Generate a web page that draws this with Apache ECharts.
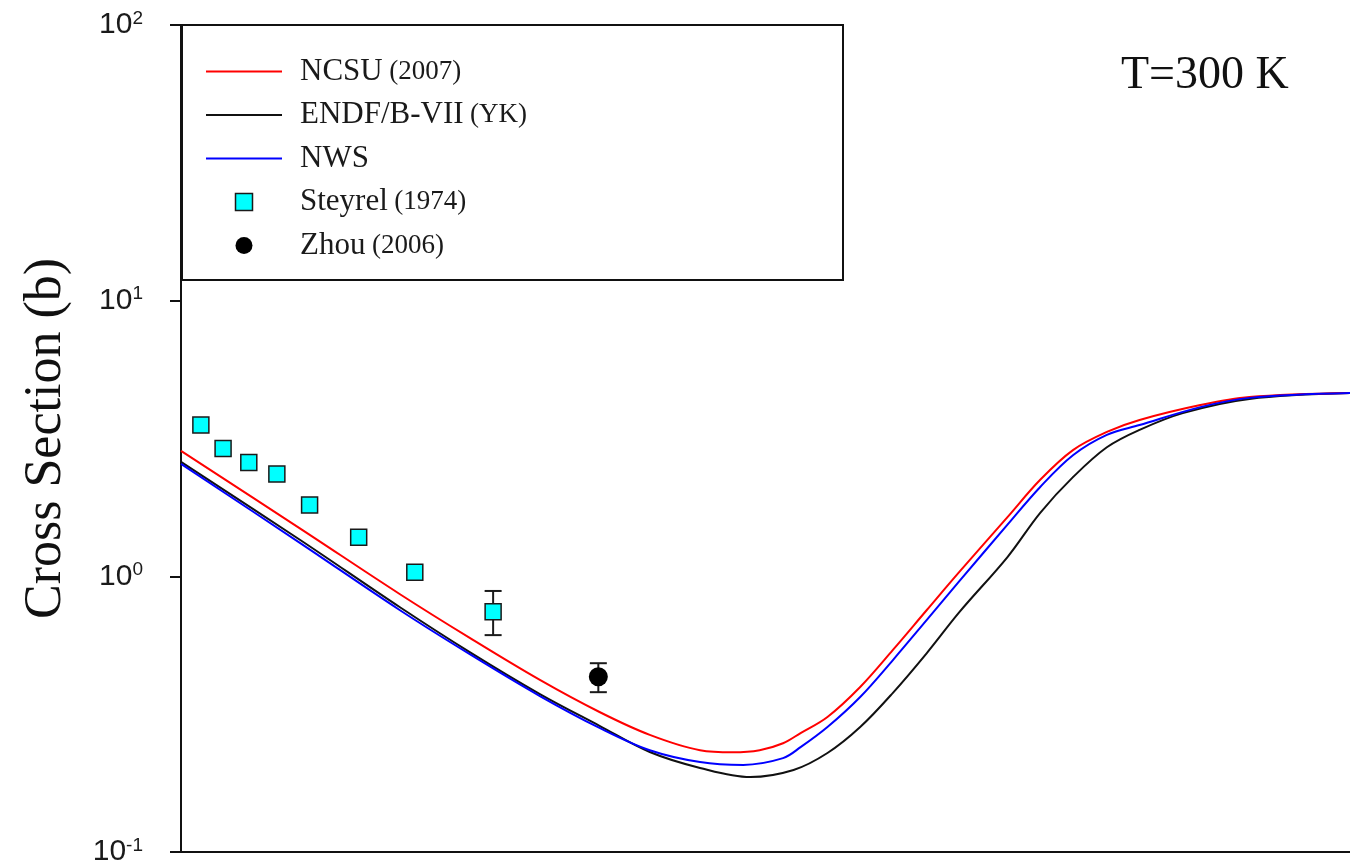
<!DOCTYPE html>
<html>
<head>
<meta charset="utf-8">
<script src="https://cdn.jsdelivr.net/npm/echarts@6/dist/echarts.min.js"></script>
<style>
  html, body { margin: 0; padding: 0; background: #ffffff; }
  #chart { width: 1350px; height: 866px; }
</style>
</head>
<body>
<div id="chart"></div>
<script>
// Horizontal positions are on an unlabelled 0..100 scale; cross sections in barns.
const ncsuX = [0, 10.2, 18.7, 24.7, 30.7, 35.8, 40.1, 44.4, 47.2, 49.5, 51.5, 53.0, 55.3, 58.1, 60.9, 63.8, 66.6, 70.7, 73.5, 76.3, 79.2, 82.0, 87.2, 91.4, 100];
const ncsuY = [2.85, 1.49, 0.863, 0.598, 0.421, 0.322, 0.266, 0.234, 0.230, 0.234, 0.248, 0.270, 0.309, 0.397, 0.541, 0.755, 1.04, 1.64, 2.24, 2.87, 3.34, 3.69, 4.18, 4.47, 4.62];

const endfX = [0, 10.2, 18.7, 24.7, 30.7, 35.8, 40.1, 44.4, 48.7, 52.4, 55.3, 58.1, 60.9, 63.8, 66.6, 70.7, 73.5, 76.3, 79.2, 82.0, 85.7, 91.4, 100];
const endfY = [2.60, 1.355, 0.774, 0.531, 0.374, 0.287, 0.2305, 0.2018, 0.187, 0.1984, 0.2286, 0.284, 0.378, 0.527, 0.743, 1.175, 1.70, 2.29, 2.94, 3.40, 3.91, 4.40, 4.62];

const nwsX = [0, 10.2, 18.7, 24.7, 30.7, 35.8, 40.1, 44.4, 48.1, 51.5, 53.0, 55.3, 58.1, 60.9, 63.8, 66.6, 70.7, 73.5, 76.3, 79.2, 82.0, 87.2, 91.4, 100];
const nwsY = [2.56, 1.32, 0.755, 0.522, 0.368, 0.282, 0.234, 0.212, 0.207, 0.219, 0.240, 0.284, 0.365, 0.497, 0.695, 0.962, 1.54, 2.11, 2.75, 3.26, 3.54, 4.11, 4.44, 4.62];

const steyrelX = [1.7, 3.6, 5.8, 8.2, 11.0, 15.2, 20.0, 26.7];
const steyrelY = [3.54, 2.91, 2.59, 2.35, 1.815, 1.385, 1.034, 0.744];
const steyrelLow = [null, null, null, null, null, null, null, 0.612];
const steyrelHigh = [null, null, null, null, null, null, null, 0.885];

const zhouX = [35.7];
const zhouY = [0.432];
const zhouLow = [0.380];
const zhouHigh = [0.484];

const seriesNames = ['NCSU (2007)', 'ENDF/B-VII (YK)', 'NWS', 'Steyrel (1974)', 'Zhou (2006)'];
const yTickExponent = { '0.1': '-1', '1': '0', '10': '1', '100': '2' };

const SERIF = 'Liberation Serif';
const SANS = 'Liberation Sans';

// legend glyphs: a flat bar for the curves, a square for Steyrel
const LINE_ICON = 'path://M0,0L40,0L40,1L0,1Z';
const SQUARE_ICON = 'path://M0,0L10,0L10,10L0,10Z';

const zip = (xs, ys) => xs.map((x, i) => [x, ys[i]]);

// error bars: [x, low, high] for every point that has an uncertainty
const errorBars = [];
steyrelX.forEach((x, i) => {
  if (steyrelLow[i] != null) errorBars.push([x, steyrelLow[i], steyrelHigh[i]]);
});
zhouX.forEach((x, i) => errorBars.push([x, zhouLow[i], zhouHigh[i]]));

function renderErrorBar(params, api) {
  const x = api.value(0);
  const lo = api.coord([x, api.value(1)]);
  const hi = api.coord([x, api.value(2)]);
  const half = 8.5;
  const style = { stroke: '#1a1a1a', lineWidth: 2 };
  return {
    type: 'group',
    children: [
      { type: 'line', shape: { x1: lo[0], y1: lo[1], x2: hi[0], y2: hi[1] }, style },
      { type: 'line', shape: { x1: lo[0] - half, y1: lo[1], x2: lo[0] + half, y2: lo[1] }, style },
      { type: 'line', shape: { x1: hi[0] - half, y1: hi[1], x2: hi[0] + half, y2: hi[1] }, style }
    ]
  };
}

const chart = echarts.init(document.getElementById('chart'), null, { renderer: 'canvas' });

chart.setOption({
  animation: false,
  backgroundColor: '#ffffff',
  grid: { left: 181, right: 0, top: 25, bottom: 14, containLabel: false, outerBoundsMode: 'none' },
  xAxis: {
    type: 'value',
    min: 0,
    max: 100,
    axisLine: { show: true, onZero: false, lineStyle: { color: '#111', width: 2 } },
    axisTick: { show: false },
    axisLabel: { show: false },
    splitLine: { show: false }
  },
  yAxis: {
    type: 'log',
    logBase: 10,
    min: 0.1,
    max: 100,
    name: 'Cross Section (b)',
    nameLocation: 'middle',
    nameRotate: 90,
    nameGap: 109,
    nameTextStyle: { fontFamily: SERIF, fontSize: 52, color: '#111' },
    axisLine: { show: true, onZero: false, lineStyle: { color: '#111', width: 2 } },
    axisTick: { show: true, inside: false, length: 11, lineStyle: { color: '#111', width: 2 } },
    minorTick: { show: false },
    splitLine: { show: false },
    axisLabel: {
      margin: 38,
      formatter: (v) => '{b|10}{s|' + yTickExponent[String(+v.toPrecision(3))] + '}',
      rich: {
        b: { fontFamily: SANS, fontSize: 30, color: '#1a1a1a', lineHeight: 32, verticalAlign: 'middle' },
        s: { fontFamily: SANS, fontSize: 19, color: '#1a1a1a', lineHeight: 19, verticalAlign: 'top' }
      }
    }
  },
  legend: {
    orient: 'vertical',
    left: 201,
    top: 51,
    padding: 5,
    itemWidth: 76,
    itemHeight: 17,
    itemGap: 12.5,
    selectedMode: false,
    data: [
      { name: seriesNames[0], icon: LINE_ICON },
      { name: seriesNames[1], icon: LINE_ICON },
      { name: seriesNames[2], icon: LINE_ICON },
      { name: seriesNames[3], icon: SQUARE_ICON,
        itemStyle: { color: '#00ffff', borderColor: '#1a1a1a', borderWidth: 1.5, opacity: 1 } },
      { name: seriesNames[4], icon: 'circle', itemStyle: { color: '#000000', borderWidth: 0, opacity: 1 } }
    ],
    formatter: (name) => {
      const i = name.indexOf(' (');
      if (i < 0) return '{m|' + name + '}';
      return '{m|' + name.slice(0, i) + '} {p|' + name.slice(i + 1) + '}';
    },
    textStyle: {
      fontFamily: SERIF, fontSize: 26, color: '#1a1a1a', lineHeight: 30,
      rich: {
        m: { fontFamily: SERIF, fontSize: 31, color: '#1a1a1a', lineHeight: 30, padding: [0, 0, 0, 13] },
        p: { fontFamily: SERIF, fontSize: 27, color: '#1a1a1a', lineHeight: 30 }
      }
    }
  },
  graphic: [
    {
      type: 'rect',
      z: 10,
      shape: { x: 182, y: 25, width: 661, height: 255 },
      style: { fill: 'none', stroke: '#111', lineWidth: 2 }
    },
    {
      type: 'text',
      z: 10,
      x: 1121,
      y: 76,
      style: { text: 'T=300 K', fontFamily: SERIF, fontSize: 46, fill: '#111', verticalAlign: 'middle' }
    }
  ],
  series: [
    {
      name: seriesNames[0], type: 'line', data: zip(ncsuX, ncsuY),
      symbol: 'none', smooth: 0.35, z: 3,
      lineStyle: { color: '#ff0000', width: 2 }, itemStyle: { color: '#ff0000' }
    },
    {
      name: seriesNames[1], type: 'line', data: zip(endfX, endfY),
      symbol: 'none', smooth: 0.35, z: 2,
      lineStyle: { color: '#111111', width: 2 }, itemStyle: { color: '#111111' }
    },
    {
      name: seriesNames[2], type: 'line', data: zip(nwsX, nwsY),
      symbol: 'none', smooth: 0.35, z: 3,
      lineStyle: { color: '#0000ff', width: 2 }, itemStyle: { color: '#0000ff' }
    },
    {
      type: 'custom', data: errorBars, renderItem: renderErrorBar, z: 4, silent: true
    },
    {
      name: seriesNames[3], type: 'scatter', data: zip(steyrelX, steyrelY),
      symbol: 'rect', symbolSize: 16, z: 5,
      itemStyle: { color: '#00ffff', borderColor: '#1a1a1a', borderWidth: 1.5, opacity: 1 }
    },
    {
      name: seriesNames[4], type: 'scatter', data: zip(zhouX, zhouY),
      symbol: 'circle', symbolSize: 19, z: 5,
      itemStyle: { color: '#000000', opacity: 1 }
    }
  ]
});
</script>
</body>
</html>
